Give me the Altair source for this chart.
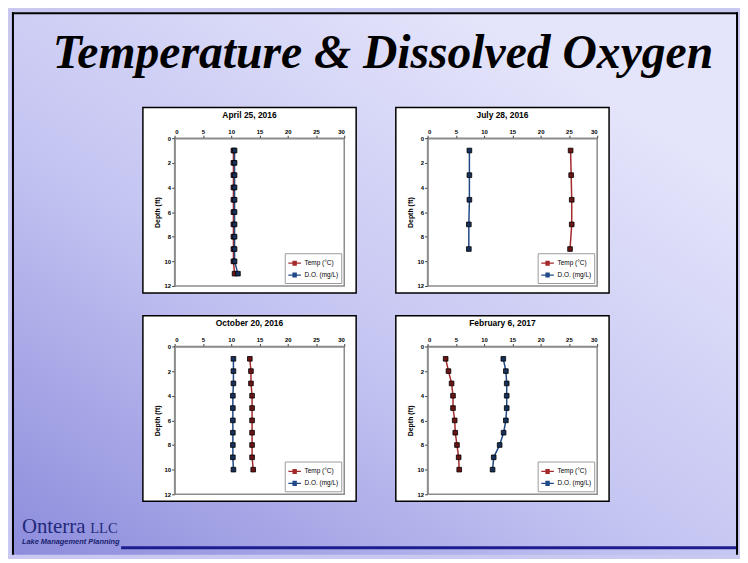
import altair as alt
import pandas as pd

# ---------------- data ----------------
SERIES = ["Temp (°C)", "D.O. (mg/L)"]
LINE_COLORS = ["#a52a2a", "#1f4a87"]
MARKER_COLORS = ["#6b1414", "#16305a"]

X_TICKS = [0, 5, 10, 15, 20, 25, 30]
Y_TICKS = [0, 2, 4, 6, 8, 10, 12]

apr_title = "April 25, 2016"
apr_depth = [1, 2, 3, 4, 5, 6, 7, 8, 9, 10, 11]
apr_temp = [10.4, 10.4, 10.4, 10.4, 10.4, 10.4, 10.4, 10.4, 10.4, 10.4, 10.6]
apr_do = [10.6, 10.6, 10.6, 10.6, 10.6, 10.6, 10.6, 10.6, 10.6, 10.6, 11.2]

jul_title = "July 28, 2016"
jul_depth = [1, 3, 5, 7, 9]
jul_temp = [25.3, 25.4, 25.5, 25.5, 25.2]
jul_do = [7.4, 7.4, 7.4, 7.3, 7.3]

oct_title = "October 20, 2016"
oct_depth = [1, 2, 3, 4, 5, 6, 7, 8, 9, 10]
oct_temp = [13.3, 13.5, 13.5, 13.7, 13.7, 13.7, 13.7, 13.7, 13.7, 13.9]
oct_do = [10.4, 10.4, 10.4, 10.3, 10.3, 10.3, 10.3, 10.3, 10.3, 10.4]

feb_title = "February 6, 2017"
feb_depth = [1, 2, 3, 4, 5, 6, 7, 8, 9, 10]
feb_temp = [3.2, 3.7, 4.25, 4.5, 4.5, 4.8, 4.9, 5.2, 5.5, 5.6]
feb_do = [13.4, 13.85, 14.0, 14.0, 14.0, 13.85, 13.45, 12.75, 11.7, 11.5]

MAIN_TITLE = "Temperature & Dissolved Oxygen"
LOGO_NAME = "Onterra"
LOGO_SUFFIX = "LLC"
LOGO_TAG = "Lake Management Planning"

# ---------------- layout ----------------
W, H = 171, 149
CW, CH = 732, 547
TOP = 127          # offset of first row of plots inside the canvas
FONT = "Liberation Sans"
one = pd.DataFrame({"k": [0]})

LEGEND_PATH = ("M-1,0H-0.35M0.35,0H1"
               "M-0.35,-0.3H0.35M-0.35,-0.1H0.35M-0.35,0.1H0.35M-0.35,0.3H0.35")


def panel(title, depth, temp, do):
    rows = [{"depth": d, "value": v, "series": SERIES[0]} for d, v in zip(depth, temp)]
    rows += [{"depth": d, "value": v, "series": SERIES[1]} for d, v in zip(depth, do)]
    df = pd.DataFrame(rows)

    box = alt.Chart(one).mark_rect(fill="white", stroke="black", strokeWidth=1.5, clip=False).encode(
        x=alt.value(-32), x2=alt.value(W + 12), y=alt.value(-31), y2=alt.value(H + 7))
    frame = alt.Chart(one).mark_rect(fill="white", stroke="#8c8c8c", strokeWidth=1.5).encode(
        x=alt.value(0), x2=alt.value(W), y=alt.value(0), y2=alt.value(H))

    xenc = alt.X("value:Q", scale=alt.Scale(domain=[0, 30], nice=False),
                 axis=alt.Axis(orient="top", values=X_TICKS, title=None, grid=False,
                               labelFont=FONT, labelFontSize=6, labelFontWeight="bold",
                               labelColor="black", tickSize=3, tickColor="#444",
                               domainColor="#8c8c8c", domainWidth=1.5, labelPadding=1,
                               zindex=1))
    yenc = alt.Y("depth:Q", scale=alt.Scale(domain=[0, 12], reverse=True, nice=False),
                 axis=alt.Axis(orient="left", values=Y_TICKS, title="Depth (ft)", grid=False,
                               labelFont=FONT, labelFontSize=6, labelFontWeight="bold",
                               labelColor="black", tickSize=3, tickColor="#444",
                               domainColor="#8c8c8c", domainWidth=1.5, labelPadding=1,
                               titleFont=FONT, titleFontSize=7, titleFontWeight="bold",
                               titleColor="black", titlePadding=4, zindex=1))

    line = alt.Chart(df).mark_line(strokeWidth=1.5).encode(
        x=xenc, y=yenc,
        color=alt.Color("series:N", scale=alt.Scale(domain=SERIES, range=LINE_COLORS),
                        legend=alt.Legend(orient="bottom-right", offset=3, title=None,
                                          fillColor="white", strokeColor="#9a9a9a",
                                          padding=3, labelFont=FONT, labelFontSize=6.5,
                                          labelColor="black", symbolType=LEGEND_PATH,
                                          symbolSize=160, symbolStrokeWidth=1.3,
                                          rowPadding=0, labelOffset=3)),
        order=alt.Order("depth:Q"))
    pts = alt.Chart(df).mark_point(shape="square", filled=True, size=22, stroke="black",
                                   strokeWidth=0.8, opacity=1).encode(
        x=xenc, y=yenc,
        fill=alt.Fill("series:N", scale=alt.Scale(domain=SERIES, range=MARKER_COLORS),
                      legend=None))

    return alt.layer(box, frame, line, pts).properties(
        width=W, height=H,
        title=alt.TitleParams(text=title, font=FONT, fontSize=8.5, fontWeight="bold",
                              color="black", anchor="middle", frame="bounds", offset=-13))


def blank():
    return alt.Chart(one).mark_point(opacity=0).encode(x=alt.value(0), y=alt.value(0))


# decoration drawn in the first (empty) cell, which sits at canvas x=0, y=TOP
bg = alt.Chart(one).mark_rect(
    fill=alt.LinearGradient(gradient="linear",
                            stops=[alt.GradientStop(color="#8c8cdc", offset=0),
                                   alt.GradientStop(color="#c4c4f2", offset=0.5),
                                   alt.GradientStop(color="#e4e4fb", offset=1)],
                            x1=0, y1=1, x2=0.75, y2=0.1),
    clip=False).encode(
    x=alt.value(0), x2=alt.value(CW), y=alt.value(-TOP), y2=alt.value(CH - TOP))

border_top = alt.Chart(one).mark_rule(color="black", strokeWidth=2).encode(
    x=alt.value(0), x2=alt.value(CW), y=alt.value(1 - TOP))
border_left = alt.Chart(one).mark_rule(color="black", strokeWidth=2).encode(
    x=alt.value(1), y=alt.value(-TOP), y2=alt.value(CH - TOP))
border_right = alt.Chart(one).mark_rule(color="black", strokeWidth=2).encode(
    x=alt.value(CW - 1), y=alt.value(-TOP), y2=alt.value(CH - TOP))

title_txt = alt.Chart(one).mark_text(
    text=MAIN_TITLE, font="Liberation Serif", fontSize=48, fontWeight="bold",
    fontStyle="italic", align="center", baseline="alphabetic", color="black").encode(
    x=alt.value(374), y=alt.value(56 - TOP))

logo1 = alt.Chart(one).mark_text(
    text=LOGO_NAME, font="Liberation Serif", fontSize=21, align="left",
    baseline="alphabetic", color="#23297a").encode(x=alt.value(10), y=alt.value(525 - TOP))
logo2 = alt.Chart(one).mark_text(
    text=LOGO_SUFFIX, font="Liberation Serif", fontSize=14.5, align="left",
    baseline="alphabetic", color="#23297a").encode(x=alt.value(79), y=alt.value(525 - TOP))
logo3 = alt.Chart(one).mark_text(
    text=LOGO_TAG, font=FONT, fontSize=7.5, fontWeight="bold", fontStyle="italic",
    align="left", baseline="alphabetic", color="#1a1f6e").encode(x=alt.value(10), y=alt.value(536 - TOP))
rule = alt.Chart(one).mark_rule(color="#1d1d8f", strokeWidth=3).encode(
    x=alt.value(110), x2=alt.value(CW - 2), y=alt.value(540 - TOP))

deco = alt.layer(bg, border_top, border_left, border_right, title_txt, logo1, logo2, logo3,
                 rule, blank()).properties(width=80, height=H)
spacer2 = blank().properties(width=80, height=H)

chart = alt.concat(
    deco,
    panel(apr_title, apr_depth, apr_temp, apr_do),
    panel(jul_title, jul_depth, jul_temp, jul_do),
    spacer2,
    panel(oct_title, oct_depth, oct_temp, oct_do),
    panel(feb_title, feb_depth, feb_temp, feb_do),
    columns=3, spacing={"row": 61, "column": 84}, bounds="flush",
).resolve_scale(color="independent", fill="independent").resolve_legend(
    color="independent", fill="independent").properties(
    padding=0, background="#c8c8f0").configure_view(stroke="transparent")

chart.save("out.html", embed_options={"renderer": "svg", "actions": False})
